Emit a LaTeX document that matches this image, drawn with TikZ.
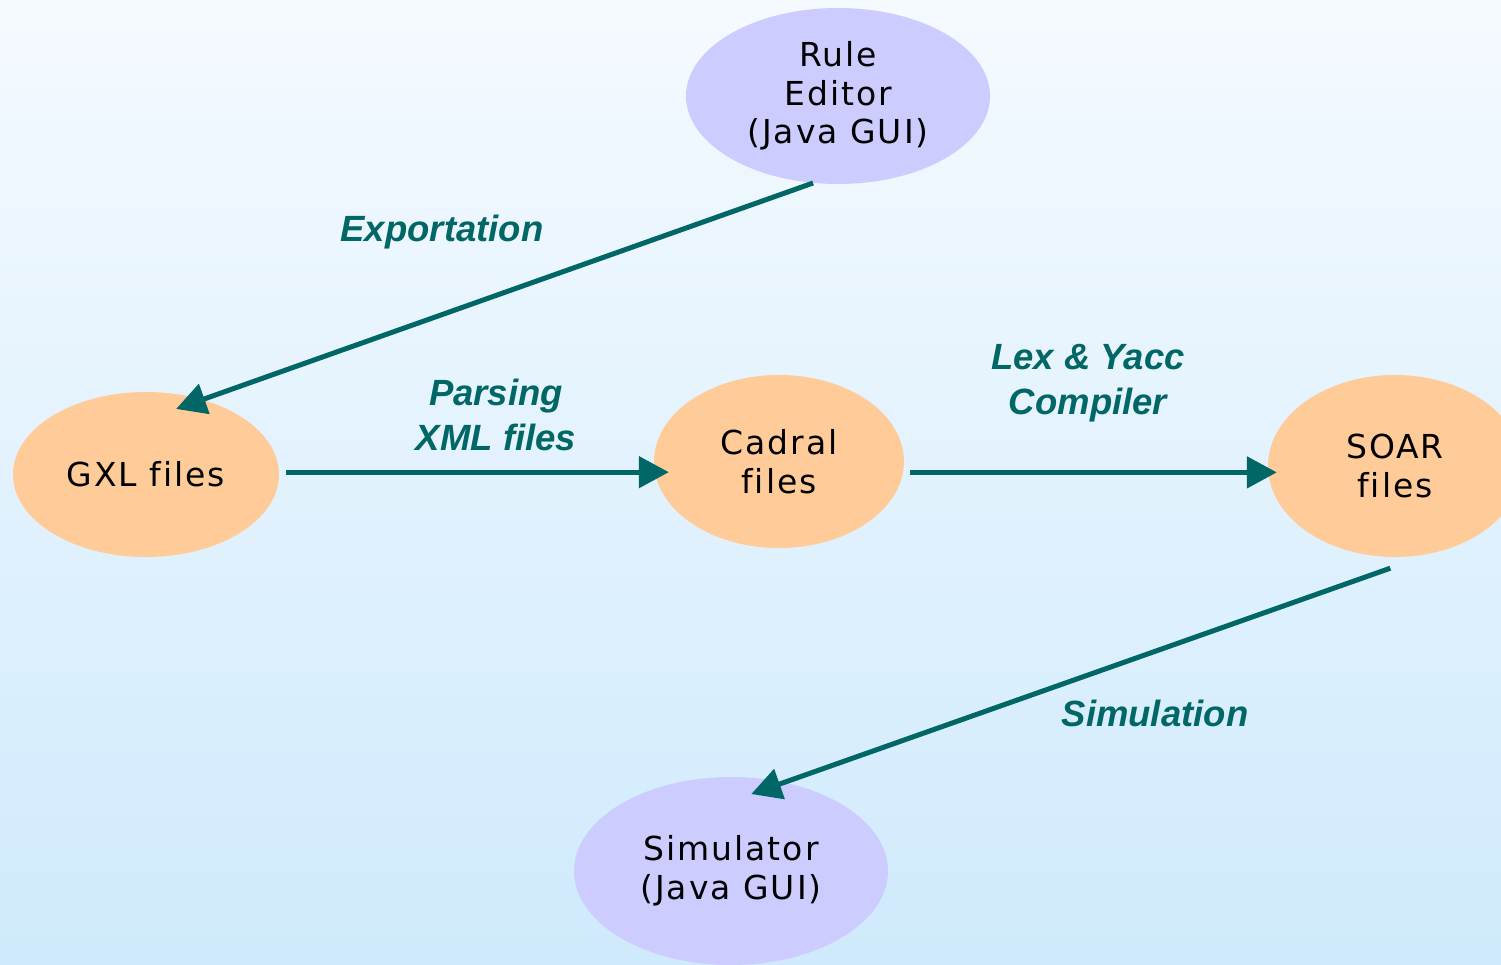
\documentclass[tikz,border=0pt]{standalone}
\usepackage{fontspec}
\setmainfont{DejaVu Sans}[LetterSpace=6,Ligatures=NoCommon]
\newfontfamily\lblfont{Liberation Sans}
\usetikzlibrary{shapes.geometric,arrows.meta}
\definecolor{flowteal}{HTML}{006666}
\definecolor{lavender}{HTML}{CCCCFF}
\definecolor{peach}{HTML}{FFCC99}
\definecolor{skytop}{HTML}{F5FAFF}
\definecolor{skybottom}{HTML}{CFEAFC}
\tikzset{
  blob/.style={ellipse, inner sep=0pt, align=center, text=black,
    font=\fontsize{33}{38.5}\selectfont},
  tool/.style={blob, fill=lavender},
  data/.style={blob, fill=peach},
  flow/.style={draw=flowteal, line width=5pt,
    -{Triangle[length=30pt,width=31pt]}},
  lbl/.style={text=flowteal, align=center,
    font=\lblfont\bfseries\itshape\fontsize{36.5}{45}\selectfont},
}
\begin{document}
\begin{tikzpicture}[x=1pt,y=-1pt]
  \useasboundingbox (0,0) rectangle (1501,965);
  \shade[top color=skytop, bottom color=skybottom] (0,0) rectangle (1501,965);

  % tools and file stages
  \node[tool, minimum width=304pt, minimum height=176pt] (re) at (838,96) {Rule\\Editor\\(Java GUI)};
  \node[data, minimum width=266pt, minimum height=165pt] (gxl) at (146,474.5) {GXL files};
  \node[data, minimum width=250pt, minimum height=173pt] (cad) at (779,461.5) {Cadral\\files};
  \node[data, minimum width=254pt, minimum height=182pt] (soar) at (1395,466) {SOAR\\files};
  \node[tool, minimum width=314pt, minimum height=188pt] (sim) at (731,871) {Simulator\\(Java GUI)};

  % processing steps
  \draw[flow, shorten >=-28pt] (re.254) -- (gxl.53.6);
  \draw[flow, shorten <=7pt, shorten >=-15pt] (gxl.1.5) -- (cad.west |- gxl.1.5);
  \draw[flow, shorten <=7pt, shorten >=-9pt] (cad.355.6) -- (soar.west |- cad.355.6);
  \draw[flow, shorten <=46pt, shorten >=-35pt] (soar.294) -- (sim.59.5);

  % step labels
  \node[lbl] (lexp) at (442,232) {Exportation};
  \node[lbl] (lpar) at (496,415) {Parsing\\XML files};
  \node[lbl] (llex) at (1088,383) {Lex \& Yacc\\Compiler};
  \node[lbl] (lsim) at (1155,713) {Simulation};
\end{tikzpicture}
\end{document}
